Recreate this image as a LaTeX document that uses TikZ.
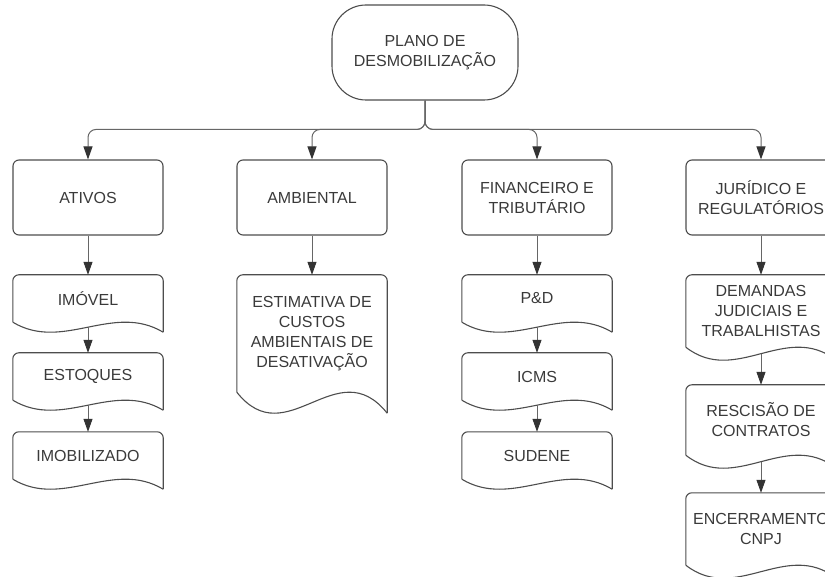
\documentclass[tikz,border=0pt]{standalone}
\usepackage{fontspec}
\setmainfont{Liberation Sans}
\usepackage[HTML]{xcolor}
\usepackage{tikz}
\usetikzlibrary{positioning, arrows, arrows.meta}
\definecolor{linegray}{HTML}{666666}
\definecolor{boxgray}{HTML}{4D4D4D}
\definecolor{tipgray}{HTML}{333333}
\definecolor{txtgray}{HTML}{3A3A3A}

\begin{document}
\begin{tikzpicture}[x=1pt, y=-1pt,
  txt/.style={text=txtgray, align=center, font=\fontsize{16}{20}\selectfont, inner sep=0pt},
  toproot/.style={txt, draw=boxgray, line width=1.1pt, rounded corners=34, minimum width=186, minimum height=95},
  area/.style={txt, draw=boxgray, line width=1.1pt, rounded corners=6, minimum width=150, minimum height=75},
  doc/.style={txt, minimum width=150, minimum height=#1},
  docline/.style={draw=boxgray, line width=1.1pt},
  arr/.style={draw=linegray, line width=1pt, -{Triangle[length=13pt, width=9pt, color=tipgray]}}]
\useasboundingbox (0,0) rectangle (825,577);
\clip (0,0) rectangle (825,577);

\node[toproot] (plano) at (425,52.5) {PLANO DE\\DESMOBILIZAÇÃO};

\node[area] (ativos) at (88,197.5) {ATIVOS};
\node[area] (ambiental) at (312,197.5) {AMBIENTAL};
\node[area] (financeiro) at (537,197.5) {FINANCEIRO E\\TRIBUTÁRIO};
\node[area] (juridico) at (761,197.5) {JURÍDICO E\\REGULATÓRIOS};

\node[doc=47] (imovel) at (88,298.5) {IMÓVEL};
\node[doc=47] (estoques) at (88,376.5) {ESTOQUES};
\node[doc=47] (imobilizado) at (88,455.5) {IMOBILIZADO};
\node[doc=117] (estimativa) at (312,333.5) {ESTIMATIVA DE\\CUSTOS\\AMBIENTAIS DE\\DESATIVAÇÃO};
\node[doc=47] (ped) at (537,298.5) {P\&D};
\node[doc=47] (icms) at (537,376.5) {ICMS};
\node[doc=47] (sudene) at (537,455.5) {SUDENE};
\node[doc=72] (demandas) at (761,311) {DEMANDAS\\JUDICIAIS E\\TRABALHISTAS};
\node[doc=70] (rescisao) at (761,420) {RESCISÃO DE\\CONTRATOS};
\node[doc=72] (encerramento) at (761,529) {ENCERRAMENTO\\CNPJ};

\foreach \n/\a in {imovel/10, estoques/10, imobilizado/10, estimativa/21, ped/10, icms/10, sudene/10, demandas/13, rescisao/13, encerramento/13} {
  \draw[docline, rounded corners=6] (\n.south west) -- (\n.north west) -- (\n.north east) -- ([yshift=-\a]\n.south east);
  \draw[docline] ([yshift=-\a]\n.south east) .. controls ([xshift=100, yshift=2*\a]\n.south west) and ([xshift=50, yshift=-3*\a]\n.south west) .. (\n.south west);
}

\foreach \c in {ativos, ambiental, financeiro, juridico}
  \draw[arr, rounded corners=8] (plano.south) |- ([yshift=30]\c.north) -- (\c.north);

\draw[arr] (ativos) -- (imovel);
\draw[arr] ([yshift=-5]imovel.south) -- (estoques.north);
\draw[arr] ([yshift=-5]estoques.south) -- (imobilizado.north);
\draw[arr] (ambiental) -- (estimativa);
\draw[arr] (financeiro) -- (ped);
\draw[arr] ([yshift=-5]ped.south) -- (icms.north);
\draw[arr] ([yshift=-5]icms.south) -- (sudene.north);
\draw[arr] (juridico) -- (demandas);
\draw[arr] ([yshift=-6.5]demandas.south) -- (rescisao.north);
\draw[arr] ([yshift=-6.5]rescisao.south) -- (encerramento.north);
\end{tikzpicture}
\end{document}
